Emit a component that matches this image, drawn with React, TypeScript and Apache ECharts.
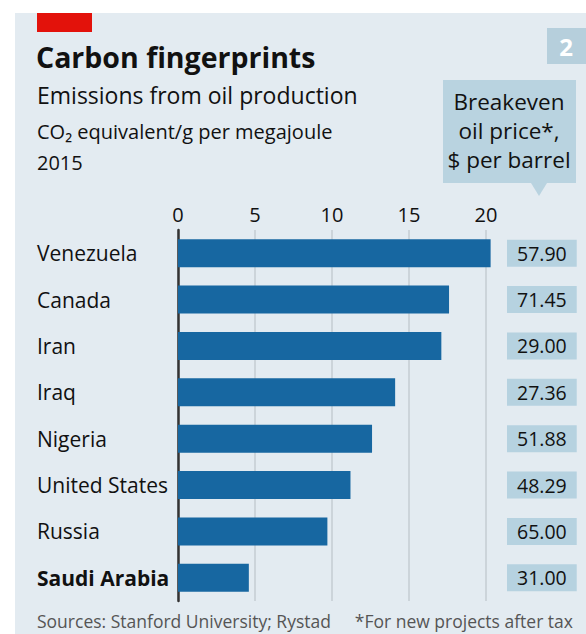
import React, { useEffect, useRef } from "react";
import * as echarts from "echarts";

const countries = ["Venezuela", "Canada", "Iran", "Iraq", "Nigeria", "United States", "Russia", "Saudi Arabia"];
const emissions = [20.3, 17.6, 17.1, 14.1, 12.6, 11.2, 9.7, 4.6];
const breakeven = [57.9, 71.45, 29.0, 27.36, 51.88, 48.29, 65.0, 31.0];
const highlighted = "Saudi Arabia";
const xTicks = [0, 5, 10, 15, 20, 25];

const FONT = "'Open Sans', 'Noto Sans', sans-serif";

export default function App() {
  const ref = useRef<HTMLDivElement>(null);
  useEffect(() => {
    document.body.style.margin = "0";
    const chart = echarts.init(ref.current!, null, { renderer: "svg" });
    const txt = (text: string, x: number, y: number, size: number, extra: any = {}) => ({
      type: "text",
      x,
      y,
      silent: true,
      style: {
        text,
        font: `${extra.weight || "normal"} ${size}px ${FONT}`,
        fill: extra.fill || "#111",
        textAlign: extra.align || "left",
        align: extra.align || "left",
        textVerticalAlign: "middle",
        verticalAlign: "middle",
        lineHeight: extra.lineHeight,
      },
    });
    chart.setOption({
      animation: false,
      textStyle: { fontFamily: FONT },
      graphic: [
        { type: "rect", shape: { x: 15, y: 13, width: 571, height: 621 }, style: { fill: "#e3ebf1" }, z: -10, silent: true },
        { type: "rect", shape: { x: 37, y: 13, width: 55, height: 19 }, style: { fill: "#e3120b" }, silent: true },
        { type: "rect", shape: { x: 547, y: 28, width: 39, height: 36 }, style: { fill: "#b6cfdc" }, silent: true },
        txt("2", 566, 46, 24, { weight: "bold", fill: "#fff", align: "center" }),
        txt("Carbon fingerprints", 36, 57, 28.5, { weight: "bold" }),
        txt("Emissions from oil production", 37, 95, 23),
        txt("CO\u2082 equivalent/g per megajoule", 37, 131, 20),
        txt("2015", 37, 162, 20),
        { type: "rect", shape: { x: 443, y: 80, width: 133, height: 103 }, style: { fill: "#b9d3e0" }, silent: true },
        { type: "polygon", shape: { points: [[531, 183], [547, 183], [539, 196]] }, style: { fill: "#b9d3e0" }, silent: true },
        txt("Breakeven\noil price*,\n$ per barrel", 509, 130, 22.5, { align: "center", lineHeight: 29 }),
        txt("Sources: Stanford University; Rystad", 37, 621, 17.5, { fill: "#555" }),
        txt("*For new projects after tax", 573, 621, 17.5, { fill: "#555", align: "right" }),
      ],
      grid: { left: 178, top: 230, width: 385, height: 371, containLabel: false },
      xAxis: {
        type: "value",
        position: "top",
        min: 0,
        max: 25,
        interval: 5,
        axisLine: { show: false },
        axisTick: { show: false },
        axisLabel: {
          fontSize: 20,
          color: "#111",
          margin: 6,
          formatter: (v: number) => (v === xTicks[xTicks.length - 1] ? "" : String(v)),
        },
        splitLine: {
          show: true,
          lineStyle: { color: ["#c4ccd2", "#c4ccd2", "#c4ccd2", "#c4ccd2", "#c4ccd2", "transparent"], width: 1.5 },
        },
      },
      yAxis: [
        {
          type: "category",
          data: countries,
          inverse: true,
          axisLine: { show: true, lineStyle: { color: "#333", width: 2.5 } },
          axisTick: { show: false },
          axisLabel: {
            align: "left",
            margin: 141,
            fontSize: 21,
            color: "#111",
            formatter: (v: string) => (v === highlighted ? `{b|${v}}` : v),
            rich: { b: { fontWeight: "bold", fontSize: 21, color: "#111", fontFamily: FONT } },
          },
        },
        {
          type: "category",
          data: countries,
          inverse: true,
          position: "right",
          offset: -56,
          axisLine: { show: false },
          axisTick: { show: false },
          axisLabel: {
            align: "left",
            margin: 0,
            fontSize: 19.5,
            lineHeight: 21,
            color: "#111",
            backgroundColor: "#b6d2e0",
            padding: [3, 10, 3, 10],
            formatter: (_v: string, i: number) => breakeven[i].toFixed(2),
          },
        },
      ],
      series: [
        {
          type: "bar",
          data: emissions,
          barWidth: 28,
          itemStyle: { color: "#1767a1" },
          silent: true,
        },
      ],
    });
    return () => chart.dispose();
  }, []);
  return <div ref={ref} style={{ width: 586, height: 634 }} />;
}
